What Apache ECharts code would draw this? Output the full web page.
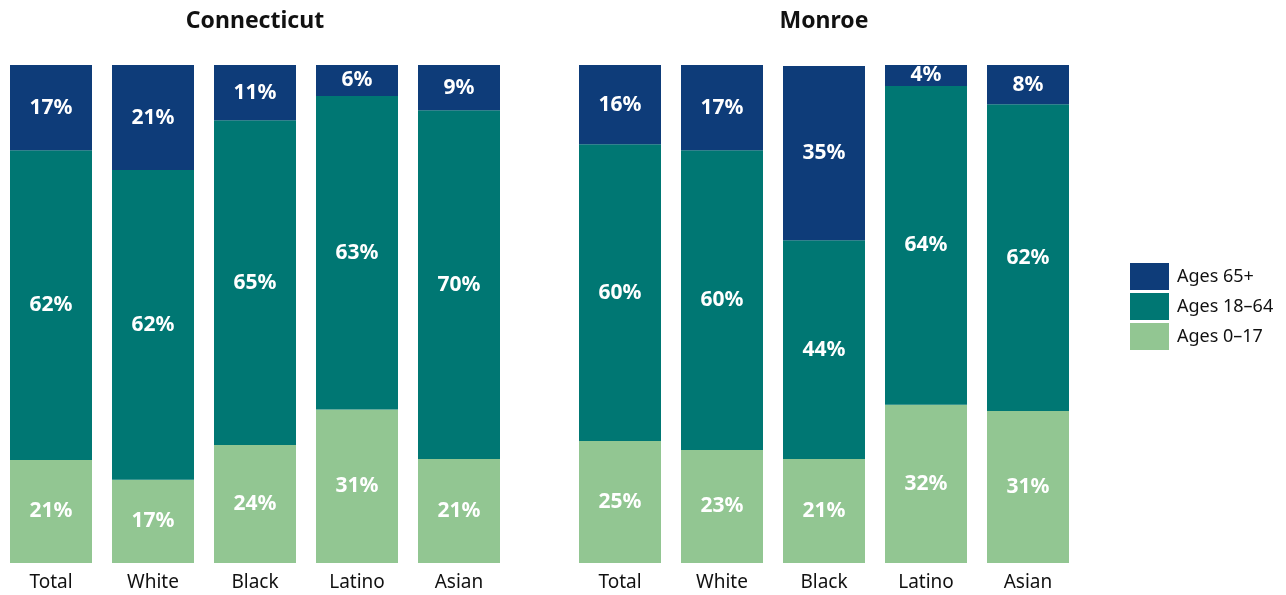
<!DOCTYPE html>
<html>
<head>
<meta charset="utf-8">
<script src="https://cdn.jsdelivr.net/npm/echarts@6/dist/echarts.min.js"></script>
<style>
  html, body { margin: 0; padding: 0; background: #ffffff; }
  #chart { width: 1286px; height: 595px; }
</style>
</head>
<body>
<div id="chart"></div>
<script>
// Age distribution by race/ethnicity, percent of each group
const categories = ['Total', 'White', 'Black', 'Latino', 'Asian'];
const panelTitles = ['Connecticut', 'Monroe'];
const seriesNames = ['Ages 0\u201317', 'Ages 18\u201364', 'Ages 65+'];

const ctAges0to17  = [20.7, 16.7, 23.7, 30.8, 20.9];
const ctAges18to64 = [62.2, 62.2, 65.2, 63.0, 70.0];
const ctAges65plus = [17.1, 21.1, 11.1, 6.2, 9.1];

const monroeAges0to17  = [24.5, 22.7, 20.9, 31.8, 30.5];
const monroeAges18to64 = [59.6, 60.2, 43.9, 64.0, 61.6];
const monroeAges65plus = [15.9, 17.1, 35.0, 4.2, 7.9];

const colors = ['#92C692', '#007773', '#0E3C79'];
const font = '"Noto Sans", "Open Sans", sans-serif';

const panels = [
  [ctAges0to17, ctAges18to64, ctAges65plus],
  [monroeAges0to17, monroeAges18to64, monroeAges65plus]
];
const gridLefts = [0, 569];

const grid = gridLefts.map(l => ({ left: l, top: 65, width: 510, height: 498 }));
const xAxis = gridLefts.map((l, i) => ({
  type: 'category', gridIndex: i, data: categories,
  axisLine: { show: false }, axisTick: { show: false },
  axisLabel: { fontFamily: font, fontSize: 19, color: '#111111', margin: 10 }
}));
const yAxis = gridLefts.map((l, i) => ({
  type: 'value', gridIndex: i, min: 0, max: 100, show: false,
  splitLine: { show: false }
}));

const series = [];
panels.forEach((groups, p) => {
  groups.forEach((vals, s) => {
    series.push({
      name: seriesNames[s], type: 'bar', stack: 'panel' + p,
      xAxisIndex: p, yAxisIndex: p, barWidth: 82,
      itemStyle: { color: colors[s] },
      label: {
        show: true, position: 'inside', color: '#ffffff',
        fontFamily: font, fontSize: 21, fontWeight: 'bold',
        formatter: d => Math.round(d.value) + '%'
      },
      data: vals
    });
  });
});

const chart = echarts.init(document.getElementById('chart'));
chart.setOption({
  animation: false,
  title: panelTitles.map((t, i) => ({
    text: t, left: gridLefts[i] + 255, top: 10, padding: 0, textAlign: 'center',
    textStyle: { fontFamily: font, fontSize: 23, fontWeight: 'bold', color: '#111111' }
  })),
  legend: {
    orient: 'vertical', left: 1130, top: 263, padding: 0,
    itemWidth: 39, itemHeight: 27, itemGap: 3, icon: 'rect',
    data: ['Ages 65+', 'Ages 18\u201364', 'Ages 0\u201317'],
    textStyle: { fontFamily: font, fontSize: 18, color: '#111111', padding: [0, 0, 0, 3] }
  },
  grid, xAxis, yAxis, series
});
</script>
</body>
</html>
